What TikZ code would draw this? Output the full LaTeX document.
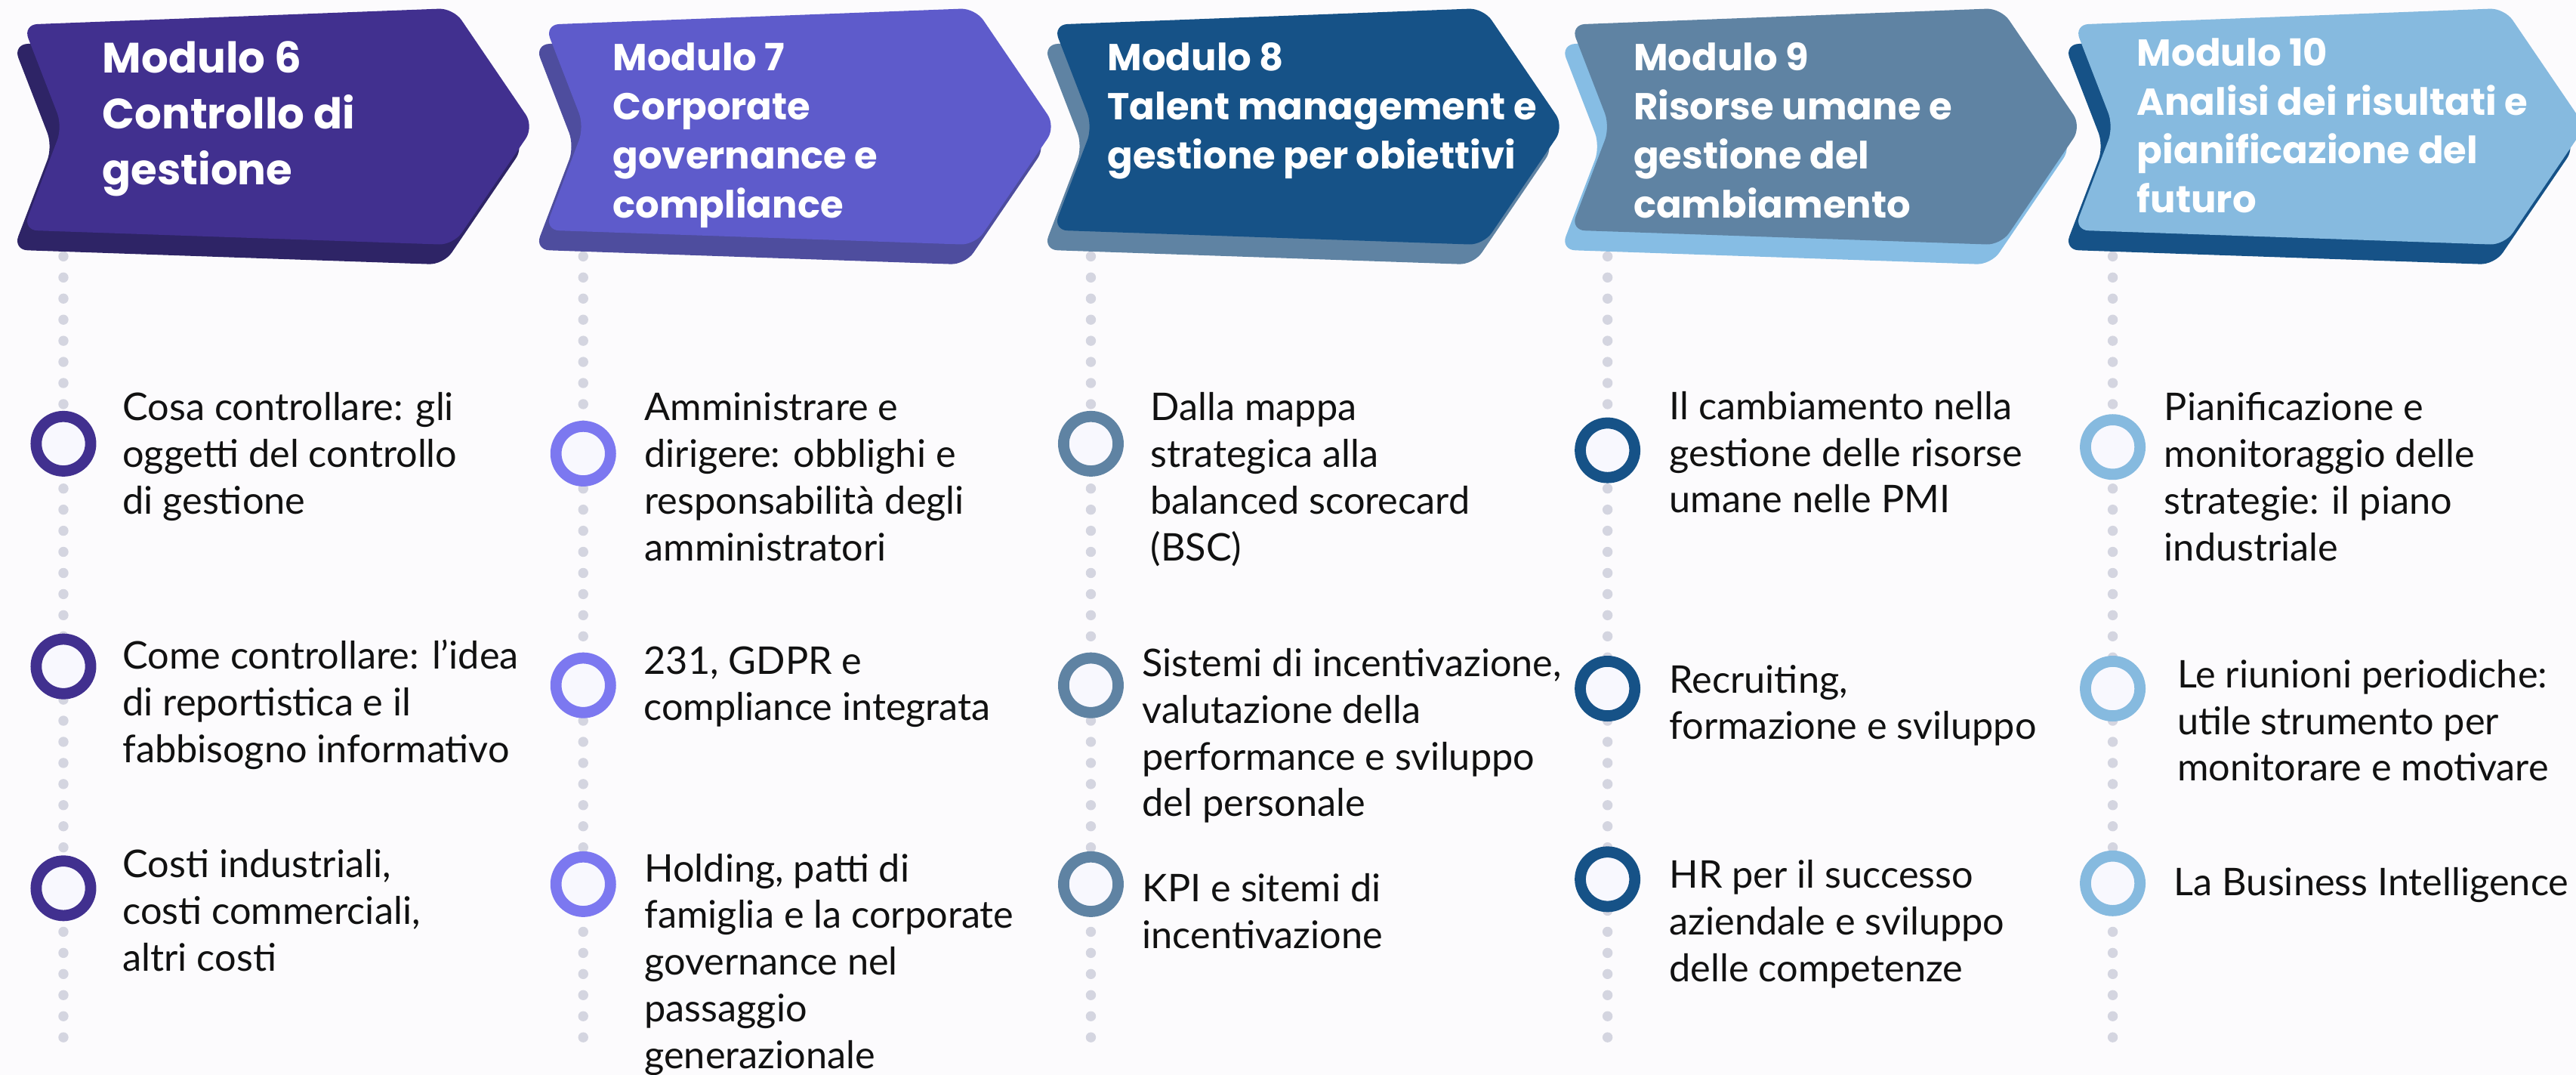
\documentclass[tikz,border=0pt]{standalone}
\usepackage{fontspec}
\setmainfont{Lato}
\newfontfamily\headfont{Poppins}
\usetikzlibrary{positioning}
\definecolor{modBg}{HTML}{FCFBFD}
\definecolor{modInk}{HTML}{111111}
\definecolor{modDot}{HTML}{D4D5E0}
\definecolor{modRingFill}{HTML}{F8F8FE}
\definecolor{modSixFront}{HTML}{41308F}
\definecolor{modSixBack}{HTML}{2E2466}
\definecolor{modSevenFront}{HTML}{5E5BCB}
\definecolor{modSevenBack}{HTML}{4E4D9E}
\definecolor{modSevenRing}{HTML}{7C78F0}
\definecolor{modEightFront}{HTML}{165287}
\definecolor{modEightBack}{HTML}{5F83A3}
\definecolor{modNineFront}{HTML}{5F83A3}
\definecolor{modNineBack}{HTML}{86BDE4}
\definecolor{modTenFront}{HTML}{86BADF}
\definecolor{modTenBack}{HTML}{165287}
\tikzset{
  modHead/.style={anchor=base west,align=left,inner sep=0pt,text=white,
    font=\headfont\bfseries\fontsize{13}{17}\selectfont},
  modItem/.style={anchor=base west,align=left,inner sep=0pt,text=modInk,
    font=\fontsize{13.2}{16.2}\selectfont},
  modRing/.style={circle,draw=#1,line width=3.86pt,fill=modRingFill,
    minimum size=0.664cm,inner sep=0pt},
  modDots/.style={draw=modDot,line width=3.5pt,line cap=round,
    dash pattern=on 0pt off 7.31pt}
}
% chevron header: left x, front colour, shadow colour
\newcommand{\modChevron}[3]{%
  \fill[#3,rounded corners=5pt,shift={({#1-6},12)}] (0,15) -- (262,5) -- (311,77)
    -- (262,149) -- (0,140) -- (24,77) -- cycle;
  \fill[#2,rounded corners=5pt,shift={(#1,0)}] (0,15) -- (262,5) -- (311,77)
    -- (262,149) -- (0,140) -- (24,77) -- cycle;}

\begin{document}
\begin{tikzpicture}[x=0.02cm,y=-0.02cm]
\path[use as bounding box,fill=modBg] (0,0) rectangle (1568,654);
\clip (0,0) rectangle (1568,654);

% timelines
\coordinate (l6top) at (38.6,156);   \coordinate (l6bot) at (38.6,634);
\coordinate (l7top) at (355,156);    \coordinate (l7bot) at (355,634);
\coordinate (l8top) at (664,156);    \coordinate (l8bot) at (664,634);
\coordinate (l9top) at (978.5,156);  \coordinate (l9bot) at (978.5,634);
\coordinate (l10top) at (1286,156);  \coordinate (l10bot) at (1286,634);
\draw[modDots] (l6top) -- (l6bot);
\draw[modDots] (l7top) -- (l7bot);
\draw[modDots] (l8top) -- (l8bot);
\draw[modDots] (l9top) -- (l9bot);
\draw[modDots] (l10top) -- (l10bot);

% headers (nodes sit on the baseline of their last line)
\modChevron{14}{modSixFront}{modSixBack}
\modChevron{331.6}{modSevenFront}{modSevenBack}
\modChevron{641}{modEightFront}{modEightBack}
\modChevron{956}{modNineFront}{modNineBack}
\modChevron{1262.5}{modTenFront}{modTenBack}

\node[modHead,font=\headfont\bfseries\fontsize{14.7}{19.35}\selectfont] (h6) at (62,112.4)
  {Modulo 6\\Controllo di\\gestione};
\node[modHead] (h7) at (372.7,132.6) {Modulo 7\\Corporate\\governance e\\compliance};
\node[modHead] (h8) at (673.8,102.7) {Modulo 8\\Talent management e\\gestione per obiettivi};
\node[modHead] (h9) at (994,132.6) {Modulo 9\\Risorse umane e\\gestione del\\cambiamento};
\node[modHead] (h10) at (1300.5,129.6) {Modulo 10\\Analisi dei risultati e\\pianificazione del\\futuro};

% modulo 6
\node[modRing=modSixFront] (r61) at (38.6,270) {};
\node[modRing=modSixFront] (r62) at (38.6,405.5) {};
\node[modRing=modSixFront] (r63) at (38.6,540.5) {};
\node[modItem] (t61) at (74.3,312.9) {Cosa controllare: gli\\oggetti del controllo\\di gestione};
\node[modItem] (t62) at (74.3,463.9) {Come controllare: l’idea\\di reportistica e il\\fabbisogno informativo};
\node[modItem] (t63) at (74.3,590.9) {Costi industriali,\\costi commerciali,\\altri costi};

% modulo 7
\node[modRing=modSevenRing] (r71) at (355,276) {};
\node[modRing=modSevenRing] (r72) at (355,417) {};
\node[modRing=modSevenRing] (r73) at (355,538) {};
\node[modItem] (t71) at (392,341.4) {Amministrare e\\dirigere: obblighi e\\responsabilità degli\\amministratori};
\node[modItem] (t72) at (391.6,438.5) {231, GDPR e\\compliance integrata};
\node[modItem] (t73) at (392,650.3) {Holding, patti di\\famiglia e la corporate\\governance nel\\passaggio\\generazionale};

% modulo 8
\node[modRing=modEightBack] (r81) at (664,270) {};
\node[modRing=modEightBack] (r82) at (664,417) {};
\node[modRing=modEightBack] (r83) at (664,538) {};
\node[modItem] (t81) at (700,341.4) {Dalla mappa\\strategica alla\\balanced scorecard\\(BSC)};
\node[modItem] (t82) at (695,496.9) {Sistemi di incentivazione,\\valutazione della\\performance e sviluppo\\del personale};
\node[modItem] (t83) at (695,577) {KPI e sitemi di\\incentivazione};

% modulo 9
\node[modRing=modEightFront] (r91) at (978.5,274) {};
\node[modRing=modEightFront] (r92) at (978.5,419) {};
\node[modRing=modEightFront] (r93) at (978.5,535) {};
\node[modItem] (t91) at (1015.8,312.1) {Il cambiamento nella\\gestione delle risorse\\umane nelle PMI};
\node[modItem] (t92) at (1015.8,450) {Recruiting,\\formazione e sviluppo};
\node[modItem] (t93) at (1015.8,597.4) {HR per il successo\\aziendale e sviluppo\\delle competenze};

% modulo 10
\node[modRing=modTenFront] (r101) at (1286,272) {};
\node[modRing=modTenFront] (r102) at (1286,419) {};
\node[modRing=modTenFront] (r103) at (1286,537.5) {};
\node[modItem] (t101) at (1317,341.4) {Pianificazione e\\monitoraggio delle\\strategie: il piano\\industriale};
\node[modItem] (t102) at (1325,475.3) {Le riunioni periodiche:\\utile strumento per\\monitorare e motivare};
\node[modItem] (t103) at (1323,544.8) {La Business Intelligence};
\end{tikzpicture}
\end{document}
